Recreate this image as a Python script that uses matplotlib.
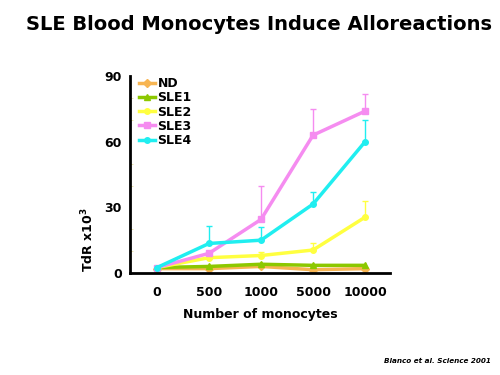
import numpy as np
import matplotlib
matplotlib.use('Agg')
import matplotlib.pyplot as plt

categories = ['0', '500', '1000', '5000', '10000']
series_names = ['ND', 'SLE1', 'SLE2', 'SLE3', 'SLE4']
nd = [2, 2, 3, 1.5, 2]
sle1 = [2.5, 3, 4, 3.5, 3.5]
sle2 = [2.5, 7, 8, 10.5, 25.5]
sle3 = [2.5, 9, 24.5, 63, 74]
sle4 = [2.5, 13.5, 15, 31.5, 60]
# upper error bar tops (0 = none)
sle2_err = [0, 0, 1.5, 3, 7.5]
sle3_err = [0, 0, 15.5, 12, 8]
sle4_err = [0, 8, 6, 5.5, 10]

colors = ['#f7b552', '#8cc800', '#ffff40', '#f58cf0', '#20eef0']
markers = ['D', '^', 'o', 's', 'o']

fig = plt.figure(figsize=(5, 3.75), dpi=100)
ax = fig.add_axes([0.26, 0.272, 0.52, 0.525])

x = np.arange(len(categories))
data = [nd, sle1, sle2, sle3, sle4]
errs = [None, None, sle2_err, sle3_err, sle4_err]
for vals, err, name, c, m in zip(data, errs, series_names, colors, markers):
    if err is not None:
        ax.errorbar(x, vals, yerr=[np.zeros(len(err)), err], fmt='none',
                    ecolor=c, elinewidth=1, capsize=2, capthick=1)
    ax.plot(x, vals, color=c, lw=2.5, marker=m, ms=4, label=name)

ax.set_xlim(-0.52, 4.48)
ax.set_ylim(0, 90)
ax.set_yticks([0, 30, 60, 90])
ax.set_yticks(np.arange(10, 90, 10), minor=True)
ax.tick_params(axis='y', which='minor', length=2, color='#e8e0a0', direction='in')
ax.set_xticks(x)
ax.set_xticklabels(categories)
ax.tick_params(axis='both', which='major', length=0, labelsize=9, pad=9)
for lab in ax.get_xticklabels() + ax.get_yticklabels():
    lab.set_fontweight('bold')
ax.tick_params(axis='y', pad=6)
for s in ['top', 'right']:
    ax.spines[s].set_visible(False)
for s in ['left', 'bottom']:
    ax.spines[s].set_linewidth(2)

ax.set_xlabel('Number of monocytes', fontsize=9, fontweight='bold', labelpad=7)
fig.text(0.176, 0.36, 'TdR x10$^{\\mathbf{3}}$', rotation=90, fontsize=9,
         fontweight='bold', ha='center', va='center')

leg = ax.legend(loc='upper left', bbox_to_anchor=(0.0, 1.04), frameon=False,
                prop={'weight': 'bold', 'size': 9}, handlelength=1.3,
                handletextpad=0.2, labelspacing=0.1, borderaxespad=0.3)

fig.text(0.518, 0.935, 'SLE Blood Monocytes Induce Alloreactions', ha='center',
         va='center', fontsize=14, fontweight='bold')
fig.text(0.874, 0.037, 'Blanco et al. Science 2001', ha='center', va='center',
         fontsize=5.2, fontweight='bold', style='italic')

fig.savefig('out.png', dpi=100)
